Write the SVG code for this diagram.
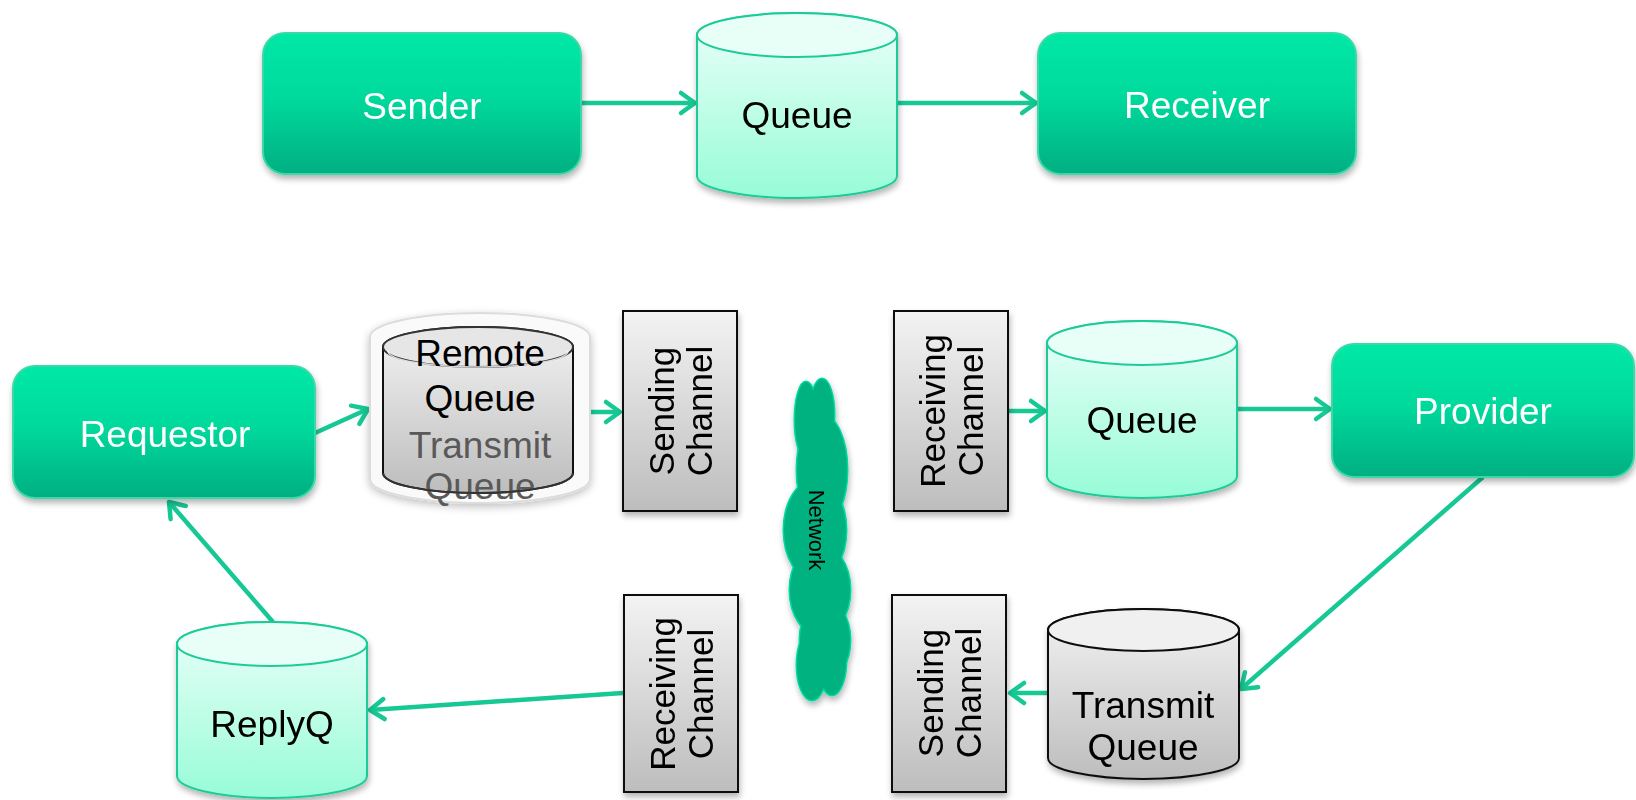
<svg xmlns="http://www.w3.org/2000/svg" width="1636" height="800" viewBox="0 0 1636 800">
<style>
.box{fill:url(#gBox);stroke:#3AD9A8;stroke-width:2}
.wt{font-family:"Liberation Sans",Arial,sans-serif;font-size:37px;fill:#fff;text-anchor:middle}
.bt{font-family:"Liberation Sans",Arial,sans-serif;font-size:37px;fill:#000;text-anchor:middle}
.gt{font-family:"Liberation Sans",Arial,sans-serif;font-size:37px;fill:#595959;text-anchor:middle}
.ct{font-family:"Liberation Sans",Arial,sans-serif;font-size:35px;fill:#000;text-anchor:middle}
.cylG{fill:url(#gCylG);stroke:#1FCB98;stroke-width:2}
.capG{fill:#E8FFF8;stroke:#1FCB98;stroke-width:2}
.cylY{fill:url(#gGray);stroke:#111;stroke-width:2}
.capY{fill:#F0F0F0;stroke:#111;stroke-width:2}
.chan{fill:url(#gGray);stroke:#111;stroke-width:2}
.conn{fill:none;stroke:#16C894;stroke-width:4.5;marker-end:url(#ah)}
</style>
<defs>
<linearGradient id="gBox" x1="0" y1="0" x2="0" y2="1">
<stop offset="0" stop-color="#00E8A6"/><stop offset="0.45" stop-color="#00DA9D"/><stop offset="1" stop-color="#00AF82"/>
</linearGradient>
<linearGradient id="gCylG" x1="0" y1="0" x2="0" y2="1">
<stop offset="0" stop-color="#EBFFF9"/><stop offset="1" stop-color="#97FCD7"/>
</linearGradient>
<linearGradient id="gGray" x1="0" y1="0" x2="0" y2="1">
<stop offset="0" stop-color="#F3F3F3"/><stop offset="1" stop-color="#BDBDBD"/>
</linearGradient>
<filter id="sh" x="-20%" y="-20%" width="140%" height="150%">
<feGaussianBlur in="SourceAlpha" stdDeviation="3"/>
<feOffset dx="1" dy="4" result="o"/>
<feComponentTransfer><feFuncA type="linear" slope="0.3"/></feComponentTransfer>
<feMerge><feMergeNode/><feMergeNode in="SourceGraphic"/></feMerge>
</filter>
<filter id="glow" x="-20%" y="-20%" width="140%" height="140%">
<feGaussianBlur in="SourceAlpha" stdDeviation="4"/>
<feOffset dx="0" dy="3" result="o"/>
<feComponentTransfer><feFuncA type="linear" slope="0.25"/></feComponentTransfer>
<feMerge><feMergeNode/><feMergeNode in="SourceGraphic"/></feMerge>
</filter>
<marker id="ah" markerWidth="20" markerHeight="26" refX="16" refY="0" viewBox="-2 -13 20 26" orient="auto" markerUnits="userSpaceOnUse" overflow="visible">
<path d="M2,-10 L16,0 L2,10" fill="none" stroke="#16C894" stroke-width="4.5" stroke-linecap="round" stroke-linejoin="round"/>
</marker>
</defs>

<g id="connectors">
<line class="conn" x1="581" y1="103" x2="695" y2="103"/>
<line class="conn" x1="897" y1="103" x2="1036" y2="103"/>
<line class="conn" x1="315" y1="433" x2="368" y2="409"/>
<line class="conn" x1="574" y1="412" x2="620" y2="412"/>
<line class="conn" x1="1008" y1="411" x2="1045" y2="411"/>
<line class="conn" x1="1238" y1="409" x2="1330" y2="409"/>
<line class="conn" x1="1483" y1="477" x2="1241" y2="689"/>
<line class="conn" x1="1048" y1="693" x2="1010" y2="693"/>
<line class="conn" x1="623" y1="693" x2="370" y2="710"/>
<line class="conn" x1="273" y1="622" x2="169" y2="502"/>
</g>

<g id="sender" filter="url(#sh)">
<rect class="box" x="263" y="33" width="318" height="141" rx="22"/>
<text class="wt" x="422" y="119">Sender</text>
</g>

<g id="queue-top" filter="url(#sh)">
<path class="cylG" d="M697,35 L697,176 A100,22 0 0 0 897,176 L897,35 A100,22 0 0 0 697,35 Z"/>
<ellipse class="capG" cx="797" cy="35" rx="100" ry="22"/>
<text class="bt" x="797" y="128">Queue</text>
</g>

<g id="receiver" filter="url(#sh)">
<rect class="box" x="1038" y="33" width="318" height="141" rx="22"/>
<text class="wt" x="1197" y="118">Receiver</text>
</g>

<g id="requestor" filter="url(#sh)">
<rect class="box" x="13" y="366" width="302" height="132" rx="22"/>
<text class="wt" x="165" y="447">Requestor</text>
</g>

<g id="remote-queue">
<path filter="url(#glow)" d="M370,337 L370,479 A110,24 0 0 0 590,479 L590,337 A110,24 0 0 0 370,337 Z" fill="#FAFAFA" stroke="#DCDCDC" stroke-width="2"/>
<path class="cylY" d="M383,347 L383,473 A95,20 0 0 0 573,473 L573,347 A95,20 0 0 0 383,347 Z" stroke="#333"/>
<ellipse cx="478" cy="347" rx="95" ry="20" fill="#E6E6E6" stroke="#333" stroke-width="2"/>
<path d="M388,351 A90,16 0 0 0 568,351" fill="none" stroke="#fff" stroke-width="1.5" opacity="0.8"/>
<text class="bt" x="480" y="366">Remote</text>
<text class="bt" x="480" y="411">Queue</text>
<text class="gt" x="480" y="458">Transmit</text>
<text class="gt" x="480" y="499">Queue</text>
<path d="M383,473 A95,20 0 0 0 573,473" fill="none" stroke="#333" stroke-width="2"/>
</g>

<g id="sending-channel-top" filter="url(#sh)">
<rect class="chan" x="623" y="311" width="114" height="200"/>
<text class="ct" transform="translate(680,411) rotate(-90)"><tspan x="0" y="-6">Sending</tspan><tspan x="0" y="32">Channel</tspan></text>
</g>

<g id="network" filter="url(#sh)">
<g fill="none" stroke="#00D9A0" stroke-width="3">
<ellipse cx="806" cy="420" rx="11" ry="38"/>
<ellipse cx="822" cy="415" rx="12" ry="36"/>
<ellipse cx="822" cy="470" rx="25" ry="55"/>
<ellipse cx="815" cy="530" rx="31" ry="50"/>
<ellipse cx="820" cy="590" rx="30" ry="45"/>
<ellipse cx="825" cy="640" rx="25" ry="40"/>
<ellipse cx="812" cy="665" rx="15" ry="35"/>
<ellipse cx="832" cy="660" rx="14" ry="35"/>
</g>
<g fill="#00B27F">
<ellipse cx="806" cy="420" rx="11" ry="38"/>
<ellipse cx="822" cy="415" rx="12" ry="36"/>
<ellipse cx="822" cy="470" rx="25" ry="55"/>
<ellipse cx="815" cy="530" rx="31" ry="50"/>
<ellipse cx="820" cy="590" rx="30" ry="45"/>
<ellipse cx="825" cy="640" rx="25" ry="40"/>
<ellipse cx="812" cy="665" rx="15" ry="35"/>
<ellipse cx="832" cy="660" rx="14" ry="35"/>
</g>
<text transform="translate(817,530) rotate(90)" x="0" y="8" font-family="Liberation Sans,Arial,sans-serif" font-size="22" fill="#000" text-anchor="middle">Network</text>
</g>

<g id="receiving-channel-top" filter="url(#sh)">
<rect class="chan" x="894" y="311" width="114" height="200"/>
<text class="ct" transform="translate(951,411) rotate(-90)"><tspan x="0" y="-6">Receiving</tspan><tspan x="0" y="32">Channel</tspan></text>
</g>

<g id="queue-right" filter="url(#sh)">
<path class="cylG" d="M1047,343 L1047,476 A95,22 0 0 0 1237,476 L1237,343 A95,22 0 0 0 1047,343 Z"/>
<ellipse class="capG" cx="1142" cy="343" rx="95" ry="22"/>
<text class="bt" x="1142" y="433">Queue</text>
</g>

<g id="provider" filter="url(#sh)">
<rect class="box" x="1332" y="344" width="302" height="133" rx="22"/>
<text class="wt" x="1483" y="424">Provider</text>
</g>

<g id="transmit-queue" filter="url(#sh)">
<path class="cylY" d="M1048,630 L1048,758 A95.5,21 0 0 0 1239,758 L1239,630 A95.5,21 0 0 0 1048,630 Z"/>
<ellipse class="capY" cx="1143.5" cy="630" rx="95.5" ry="21"/>
<text class="bt" x="1143" y="718">Transmit</text>
<text class="bt" x="1143" y="760">Queue</text>
</g>

<g id="sending-channel-bottom" filter="url(#sh)">
<rect class="chan" x="892" y="595" width="114" height="197"/>
<text class="ct" transform="translate(949,693) rotate(-90)"><tspan x="0" y="-6">Sending</tspan><tspan x="0" y="32">Channel</tspan></text>
</g>

<g id="receiving-channel-bottom" filter="url(#sh)">
<rect class="chan" x="624" y="595" width="114" height="197"/>
<text class="ct" transform="translate(681,694) rotate(-90)"><tspan x="0" y="-6">Receiving</tspan><tspan x="0" y="32">Channel</tspan></text>
</g>

<g id="replyq" filter="url(#sh)">
<path class="cylG" d="M177,644 L177,776 A95,22 0 0 0 367,776 L367,644 A95,22 0 0 0 177,644 Z"/>
<ellipse class="capG" cx="272" cy="644" rx="95" ry="22"/>
<text class="bt" x="272" y="737">ReplyQ</text>
</g>
</svg>
